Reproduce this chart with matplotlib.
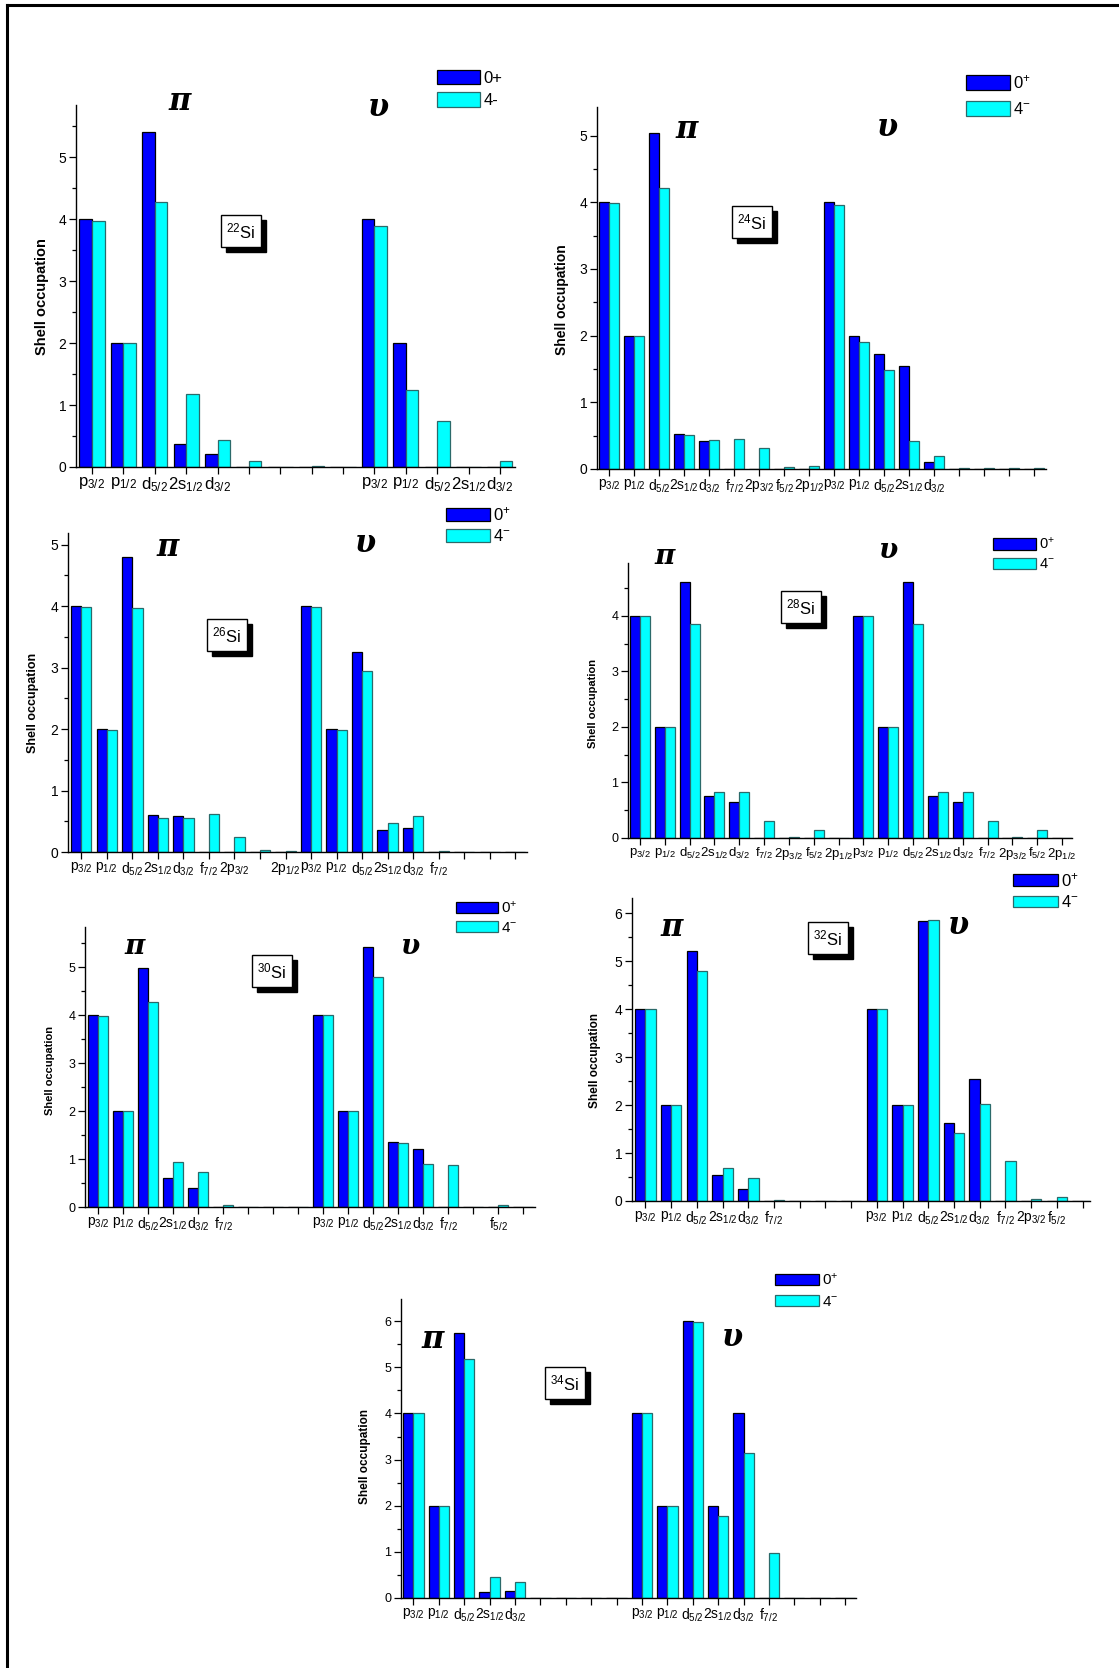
import matplotlib
matplotlib.use('Agg')
import matplotlib.pyplot as plt
from matplotlib.patches import Patch, Rectangle
from matplotlib.lines import Line2D
from matplotlib.ticker import MultipleLocator
import matplotlib.transforms as mtrans
import numpy as np

plt.rcParams['font.family'] = ['Liberation Sans', 'DejaVu Sans']
plt.rcParams['mathtext.fontset'] = 'custom'
plt.rcParams['mathtext.rm'] = 'Liberation Sans'
plt.rcParams['mathtext.it'] = 'Liberation Sans:italic'
plt.rcParams['mathtext.bf'] = 'Liberation Sans:bold'

W, H = 1119, 1668

# orbit labels
p32 = r'p$_{3/2}$'
p12 = r'p$_{1/2}$'
d52 = r'd$_{5/2}$'
s12 = r'2s$_{1/2}$'
d32 = r'd$_{3/2}$'
f72 = r'f$_{7/2}$'
pp32 = r'2p$_{3/2}$'
f52 = r'f$_{5/2}$'
pp12 = r'2p$_{1/2}$'

# ---------------- data ----------------
si22_gs = [4.0, 2.0, 5.41, 0.37, 0.215, 0.0, 0.0, 0.0, 0.0, 4.0, 2.0, 0.0, 0.0, 0.0]
si22_ex = [3.97, 2.0, 4.28, 1.18, 0.435, 0.10, 0.005, 0.01, 0.005, 3.88, 1.25, 0.75, 0.005, 0.09]
si22_labels = [p32, p12, d52, s12, d32, '', '', '', '', p32, p12, d52, s12, d32]

si24_gs = [4.0, 2.0, 5.04, 0.53, 0.42, 0.0, 0.0, 0.0, 0.0, 4.0, 2.0, 1.73, 1.55, 0.10, 0.0, 0.0, 0.0, 0.0]
si24_ex = [3.99, 2.0, 4.22, 0.51, 0.43, 0.45, 0.31, 0.03, 0.04, 3.96, 1.91, 1.48, 0.42, 0.19, 0.01, 0.01, 0.01, 0.01]
si24_labels = [p32, p12, d52, s12, d32, f72, pp32, f52, pp12, p32, p12, d52, s12, d32, '', '', '', '']

si26_gs = [4.0, 2.0, 4.80, 0.60, 0.59, 0.0, 0.0, 0.0, 0.0, 4.0, 2.0, 3.25, 0.36, 0.385, 0.0, 0.0, 0.0, 0.0]
si26_ex = [3.99, 1.99, 3.97, 0.55, 0.56, 0.62, 0.25, 0.03, 0.01, 3.99, 1.98, 2.94, 0.47, 0.58, 0.015, 0.005, 0.005, 0.0]
si26_labels = [p32, p12, d52, s12, d32, f72, pp32, '', pp12, p32, p12, d52, s12, d32, f72, '', '', '']

si28_gs = [4.0, 2.0, 4.60, 0.76, 0.64, 0.0, 0.0, 0.0, 0.0, 4.0, 2.0, 4.60, 0.76, 0.64, 0.0, 0.0, 0.0, 0.0]
si28_ex = [3.99, 2.0, 3.86, 0.83, 0.83, 0.31, 0.025, 0.14, 0.005, 3.99, 2.0, 3.86, 0.83, 0.83, 0.31, 0.025, 0.14, 0.005]
si28_labels = [p32, p12, d52, s12, d32, f72, pp32, f52, pp12, p32, p12, d52, s12, d32, f72, pp32, f52, pp12]

si30_gs = [4.0, 2.0, 4.98, 0.60, 0.40, 0.0, 0.0, 0.0, 0.0, 4.0, 2.0, 5.42, 1.36, 1.20, 0.0, 0.0, 0.0, 0.0]
si30_ex = [3.98, 2.0, 4.28, 0.94, 0.72, 0.04, 0.01, 0.005, 0.005, 4.0, 2.0, 4.80, 1.34, 0.90, 0.87, 0.005, 0.04, 0.005]
si30_labels = [p32, p12, d52, s12, d32, f72, '', '', '', p32, p12, d52, s12, d32, f72, '', f52, '']

si32_gs = [4.0, 2.0, 5.21, 0.535, 0.25, 0.0, 0.0, 0.0, 0.0, 4.0, 2.0, 5.83, 1.63, 2.545, 0.0, 0.0, 0.0, 0.0]
si32_ex = [4.0, 2.0, 4.80, 0.69, 0.48, 0.02, 0.005, 0.005, 0.005, 4.0, 2.0, 5.855, 1.42, 2.02, 0.83, 0.04, 0.08, 0.005]
si32_labels = [p32, p12, d52, s12, d32, f72, '', '', '', p32, p12, d52, s12, d32, f72, pp32, f52, '']

si34_gs = [4.0, 2.0, 5.745, 0.12, 0.145, 0.0, 0.0, 0.0, 0.0, 4.0, 2.0, 6.0, 2.0, 4.0, 0.0, 0.0, 0.0, 0.0]
si34_ex = [4.0, 2.0, 5.18, 0.46, 0.34, 0.005, 0.005, 0.005, 0.005, 4.0, 2.0, 5.98, 1.78, 3.15, 0.98, 0.005, 0.01, 0.005]
si34_labels = [p32, p12, d52, s12, d32, '', '', '', '', p32, p12, d52, s12, d32, f72, '', '', '']

nuclei = ['22', '24', '26', '28', '30', '32', '34']
gs_series = [si22_gs, si24_gs, si26_gs, si28_gs, si30_gs, si32_gs, si34_gs]
ex_series = [si22_ex, si24_ex, si26_ex, si28_ex, si30_ex, si32_ex, si34_ex]
label_sets = [si22_labels, si24_labels, si26_labels, si28_labels, si30_labels, si32_labels, si34_labels]
legend_sets = [['0+', '4-']] + [[r'0$^{+}$', r'4$^{-}$']] * 6

# ---------------- layout (pixels) ----------------
layouts = [
    dict(ax=(76, 105, 515, 467), xlim=(-0.51, 13.48), ylim=5.84, ytop=5, leg=(437, 70, 43, 16, 23),
         pi=(180, 102), up=(378, 108), box=(241, 231), yl=(42, 297), fx=12, fy=10, fyl=10.5, fleg=12, fg=22),
    dict(ax=(597, 107, 1046, 469), xlim=(-0.48, 17.47), ylim=5.43, ytop=5, leg=(966, 73, 44, 16, 27),
         pi=(687, 130), up=(887, 128), box=(752, 222), yl=(562, 300), fx=10, fy=10, fyl=10, fleg=12, fg=22),
    dict(ax=(68, 533, 527, 852), xlim=(-0.52, 17.46), ylim=5.19, ytop=5, leg=(446, 505, 44, 14, 22),
         pi=(168, 548), up=(365, 543), box=(227, 635), yl=(33, 703), fx=10, fy=10, fyl=9, fleg=12, fg=22),
    dict(ax=(628, 563, 1072, 838), xlim=(-0.48, 17.4), ylim=4.95, ytop=4, leg=(993, 536, 43, 12, 20),
         pi=(665, 557), up=(888, 550), box=(801, 607), yl=(593, 703), fx=9.5, fy=9, fyl=8, fleg=10.5, fg=20),
    dict(ax=(85, 927, 535, 1207), xlim=(-0.53, 17.47), ylim=5.84, ytop=5, leg=(456, 900, 42, 11, 20),
         pi=(135, 947), up=(410, 947), box=(272, 971), yl=(50, 1070), fx=10, fy=9, fyl=8, fleg=11, fg=20),
    dict(ax=(632, 898, 1090, 1201), xlim=(-0.52, 17.29), ylim=6.32, ytop=6, leg=(1013, 871, 45, 12, 22),
         pi=(672, 927), up=(958, 925), box=(828, 938), yl=(595, 1060), fx=10, fy=10, fyl=8.5, fleg=12, fg=22),
    dict(ax=(401, 1299, 856, 1598), xlim=(-0.49, 17.43), ylim=6.48, ytop=6, leg=(775, 1272, 44, 12, 22),
         pi=(433, 1340), up=(732, 1338), box=(565, 1383), yl=(365, 1457), fx=10, fy=9, fyl=8.5, fleg=11, fg=22),
]

BLUE = '#0000FF'
CYAN = '#00FFFF'
CYAN_EDGE = '#2B6A6A'

fig = plt.figure(figsize=(W / 100, H / 100), dpi=100)
fig.patch.set_facecolor('white')


def fx(x):
    return x / W


def fy(y):
    return 1 - y / H


box_texts = []
for k in range(7):
    L = layouts[k]
    x0, yt, x1, yb = L['ax']
    ax = fig.add_axes([fx(x0), fy(yb), (x1 - x0) / W, (yb - yt) / H])
    gs = gs_series[k]
    ex = ex_series[k]
    idx = np.arange(len(gs))
    ax.bar(idx - 0.2, gs, width=0.4, color=BLUE, edgecolor='black', linewidth=0.9, zorder=2)
    ax.bar(idx + 0.2, ex, width=0.4, color=CYAN, edgecolor=CYAN_EDGE, linewidth=0.9, zorder=2)
    ax.set_xlim(*L['xlim'])
    ax.set_ylim(0, L['ylim'])
    ax.set_xticks(idx)
    ax.set_xticklabels(label_sets[k], fontsize=L['fx'])
    ax.set_yticks(np.arange(0, L['ytop'] + 1))
    ax.yaxis.set_minor_locator(MultipleLocator(0.5))
    ax.tick_params(axis='y', which='major', direction='out', length=5, width=0.9, labelsize=L['fy'], pad=2)
    ax.tick_params(axis='y', which='minor', direction='out', length=3, width=0.9)
    ax.tick_params(axis='x', which='major', direction='out', length=5, width=0.9, pad=1)
    for s in ('top', 'right'):
        ax.spines[s].set_visible(False)
    for s in ('left', 'bottom'):
        ax.spines[s].set_linewidth(1.0)

    # y label
    fig.text(fx(L['yl'][0]), fy(L['yl'][1]), 'Shell occupation', rotation=90,
             ha='center', va='center', fontsize=L['fyl'], fontweight='bold')

    # pi / upsilon
    for ch, pos in (('π', L['pi']), ('υ', L['up'])):
        fig.text(fx(pos[0]), fy(pos[1]), ch, ha='center', va='center', fontsize=L['fg'],
                 fontweight='bold', fontstyle='italic', family=['DejaVu Serif'])

    # nucleus box
    bx, by = L['box']
    lbl = r'$^{%s}$Si' % nuclei[k]
    t = fig.text(fx(bx), fy(by), lbl, ha='center', va='center', fontsize=12, color='black', zorder=5,
                 bbox=dict(boxstyle='square,pad=0.35', facecolor='white', edgecolor='black', linewidth=1))
    box_texts.append(t)

    # legend
    lx, ly, bw, bh, pitch = L['leg']
    fs_px = L['fleg'] * 100 / 72
    handles = [Patch(facecolor=BLUE, edgecolor='black', linewidth=0.9),
               Patch(facecolor=CYAN, edgecolor=CYAN_EDGE, linewidth=0.9)]
    row_h = max(bh, fs_px)
    ax.legend(handles, legend_sets[k], loc='upper left',
              bbox_to_anchor=(fx(lx), fy(ly)), bbox_transform=fig.transFigure,
              frameon=False, fontsize=L['fleg'], borderpad=0, borderaxespad=0,
              handlelength=bw / fs_px, handleheight=bh / fs_px,
              labelspacing=max(pitch - row_h, 1) / fs_px, handletextpad=0.2)

# drop shadows behind the nucleus boxes
fig.canvas.draw()
for t in box_texts:
    ext = t.get_bbox_patch().get_window_extent()
    fig.add_artist(Rectangle((ext.x0 + 5, ext.y0 - 5), ext.width, ext.height,
                             transform=mtrans.IdentityTransform(), facecolor='black',
                             edgecolor='black', zorder=4))

# page border lines (left and top)
fig.add_artist(Line2D([fx(7), fx(7)], [fy(5), 0], color='black', linewidth=2.2))
fig.add_artist(Line2D([fx(7), 1], [fy(5), fy(5)], color='black', linewidth=2.2))

fig.savefig('out.png', dpi=100, facecolor='white')
